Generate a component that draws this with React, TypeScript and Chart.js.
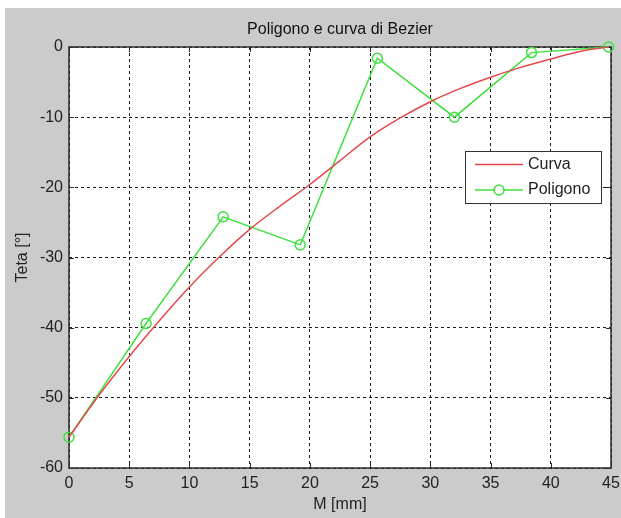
import React, { useEffect, useRef } from "react";
import { Chart, registerables } from "chart.js";

Chart.register(...registerables);

const TITLE = "Poligono e curva di Bezier";
const X_LABEL = "M [mm]";
const Y_LABEL = "Teta [°]";
const CURVE_NAME = "Curva";
const POLY_NAME = "Poligono";

const xTicks = [0, 5, 10, 15, 20, 25, 30, 35, 40, 45];
const yTicks = [-60, -50, -40, -30, -20, -10, 0];

const polygonM = [0, 6.4, 12.8, 19.2, 25.6, 32, 38.4, 44.8];
const polygonTeta = [-55.6, -39.4, -24.2, -28.2, -1.6, -10.0, -0.8, 0];

const curveM = [0, 2.5, 5, 7.5, 10, 12.5, 15, 17.5, 20, 22.5, 25, 27.5, 30, 32.5, 35, 37.5, 40, 42.5, 44.8];
const curveTeta = [-55.6, -49.6, -44.1, -39.0, -34.2, -29.9, -26.0, -22.7, -19.6, -16.2, -12.8, -10.1, -7.8, -5.9, -4.3, -2.9, -1.7, -0.6, 0];

const FONT = "Arial, 'Liberation Sans', Helvetica, sans-serif";
const BG = "#cbcbcb";
const RED = "#e4484c";
const GREEN = "#3fe03f";
const TEXT = "#222222";

const bgPlugin = {
  id: "bg",
  beforeDraw(chart: any) {
    const { ctx, chartArea: a, width, height } = chart;
    ctx.save();
    ctx.fillStyle = BG;
    ctx.fillRect(0, 0, width, height);
    ctx.fillStyle = "#ffffff";
    ctx.fillRect(a.left, a.top, a.right - a.left, a.bottom - a.top);
    ctx.restore();
  },
};

const titlePlugin = {
  id: "axesTitle",
  afterDraw(chart: any) {
    const { ctx, chartArea: a } = chart;
    ctx.save();
    ctx.fillStyle = "#111111";
    ctx.font = `16px ${FONT}`;
    ctx.textAlign = "center";
    ctx.textBaseline = "middle";
    ctx.fillText(TITLE, (a.left + a.right) / 2, a.top - 17);
    ctx.restore();
  },
};

const framePlugin = {
  id: "frame",
  beforeDatasetsDraw(chart: any) {
    const { ctx, chartArea: a, scales } = chart;
    const L = 5;
    ctx.save();
    ctx.setLineDash([]);
    ctx.strokeStyle = "#2b2b2b";
    ctx.lineWidth = 1;
    ctx.beginPath();
    for (const v of xTicks) {
      const px = Math.round(scales.x.getPixelForValue(v)) + 0.5;
      ctx.moveTo(px, a.bottom);
      ctx.lineTo(px, a.bottom - L);
      ctx.moveTo(px, a.top);
      ctx.lineTo(px, a.top + L);
    }
    for (const v of yTicks) {
      const py = Math.round(scales.y.getPixelForValue(v)) + 0.5;
      ctx.moveTo(a.left, py);
      ctx.lineTo(a.left + L, py);
      ctx.moveTo(a.right, py);
      ctx.lineTo(a.right - L, py);
    }
    ctx.stroke();
    ctx.lineWidth = 1.5;
    ctx.strokeRect(a.left, a.top, a.right - a.left, a.bottom - a.top);
    ctx.restore();
  },
};

const legendPlugin = {
  id: "customLegend",
  afterDraw(chart: any) {
    const { ctx, chartArea: a } = chart;
    const ds = chart.data.datasets;
    const w = 136;
    const h = 52;
    const x = a.right - 10 - w;
    const y = a.top + 104;
    ctx.save();
    ctx.setLineDash([]);
    ctx.fillStyle = "#ffffff";
    ctx.fillRect(x, y, w, h);
    ctx.strokeStyle = "#333333";
    ctx.lineWidth = 1;
    ctx.strokeRect(x + 0.5, y + 0.5, w, h);
    const rows = [y + 13.5, y + 39];
    ds.forEach((d: any, i: number) => {
      const ry = rows[i];
      ctx.strokeStyle = d.borderColor;
      ctx.lineWidth = 1.5;
      ctx.beginPath();
      ctx.moveTo(x + 10, ry);
      ctx.lineTo(x + 58, ry);
      ctx.stroke();
      if (d.pointRadius > 0) {
        ctx.beginPath();
        ctx.arc(x + 34, ry, d.pointRadius, 0, Math.PI * 2);
        ctx.fillStyle = "#ffffff";
        ctx.fill();
        ctx.stroke();
      }
      ctx.fillStyle = TEXT;
      ctx.font = `16px ${FONT}`;
      ctx.textBaseline = "middle";
      ctx.textAlign = "left";
      ctx.fillText(d.label, x + 63, ry);
    });
    ctx.restore();
  },
};

export default function App() {
  const ref = useRef<HTMLCanvasElement | null>(null);

  useEffect(() => {
    document.body.style.margin = "0";
    if (!ref.current) return;
    const curveData = curveM.map((m, i) => ({ x: m, y: curveTeta[i] }));
    const polyData = polygonM.map((m, i) => ({ x: m, y: polygonTeta[i] }));
    const chart = new Chart(ref.current, {
      type: "line",
      data: {
        datasets: [
          {
            label: CURVE_NAME,
            data: curveData,
            borderColor: RED,
            borderWidth: 1.5,
            pointRadius: 0,
            cubicInterpolationMode: "monotone",
            fill: false,
          },
          {
            label: POLY_NAME,
            data: polyData,
            borderColor: GREEN,
            borderWidth: 1.5,
            pointRadius: 5,
            pointBorderWidth: 1.5,
            pointBorderColor: GREEN,
            pointBackgroundColor: "rgba(255,255,255,0)",
            tension: 0,
            fill: false,
            clip: false,
          },
        ],
      } as any,
      options: {
        animation: false,
        responsive: false,
        maintainAspectRatio: false,
        layout: { padding: { left: 0, right: 10, top: 39, bottom: 0 } },
        plugins: {
          legend: { display: false },
          tooltip: { enabled: false },
          title: { display: false },
        },
        scales: {
          x: {
            type: "linear",
            min: 0,
            max: 45,
            afterBuildTicks: (s: any) => {
              s.ticks = xTicks.map((v) => ({ value: v }));
            },
            afterFit: (s: any) => {
              s.height = 50;
              s.paddingLeft = 0;
              s.paddingRight = 0;
            },
            grid: { color: "#1a1a1a", lineWidth: 1, drawTicks: false },
            border: { display: false, dash: [3, 3] },
            ticks: {
              color: TEXT,
              padding: 6,
              maxRotation: 0,
              autoSkip: false,
              font: { family: FONT, size: 16 },
            },
            title: {
              display: true,
              text: X_LABEL,
              color: TEXT,
              font: { family: FONT, size: 16, lineHeight: 1.2 },
              padding: { top: 0, bottom: 4 },
            },
          },
          y: {
            type: "linear",
            min: -60,
            max: 0,
            afterBuildTicks: (s: any) => {
              s.ticks = yTicks.map((v) => ({ value: v }));
            },
            afterFit: (s: any) => {
              s.width = 64;
              s.paddingTop = 0;
              s.paddingBottom = 0;
            },
            grid: { color: "#1a1a1a", lineWidth: 1, drawTicks: false },
            border: { display: false, dash: [3, 3] },
            ticks: {
              color: TEXT,
              padding: 6,
              autoSkip: false,
              font: { family: FONT, size: 16 },
            },
            title: {
              display: true,
              text: Y_LABEL,
              color: TEXT,
              font: { family: FONT, size: 16, lineHeight: 1.2 },
              padding: { top: 8, bottom: 0 },
            },
          },
        },
      } as any,
      plugins: [bgPlugin, framePlugin, legendPlugin, titlePlugin],
    });
    return () => chart.destroy();
  }, []);

  return (
    <div style={{ background: "#ffffff", padding: "8px 0 0 5px", width: 621, height: 518, boxSizing: "border-box" }}>
      <canvas ref={ref} width={616} height={510} style={{ display: "block", width: 616, height: 510 }} />
    </div>
  );
}
